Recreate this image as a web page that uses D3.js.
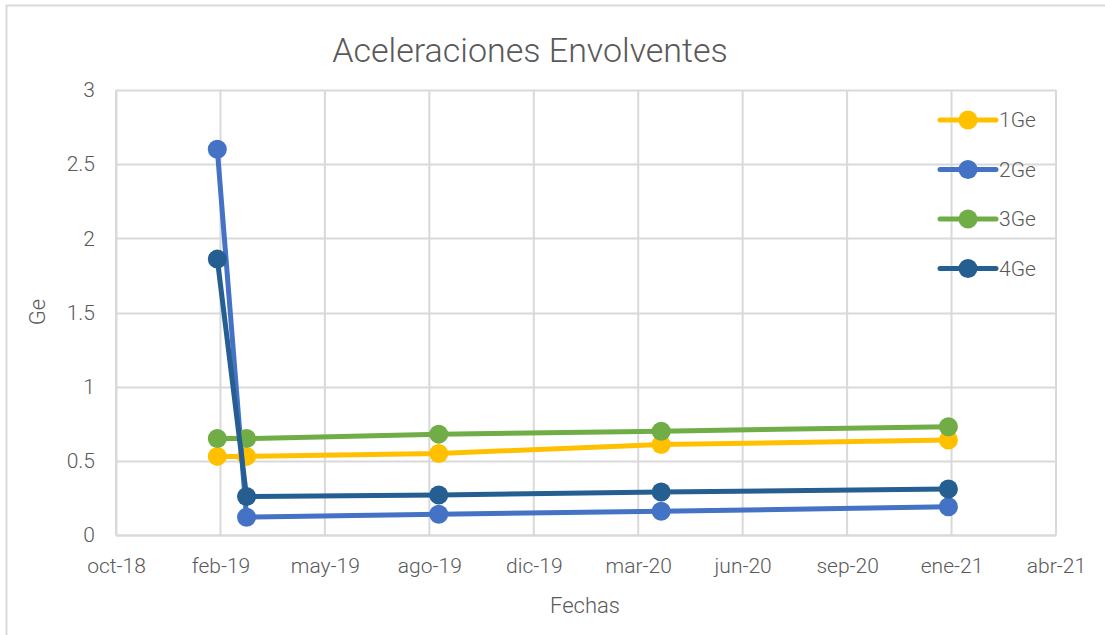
<!DOCTYPE html>
<html>
<head>
<meta charset="utf-8">
<script src="https://cdn.jsdelivr.net/npm/d3@7"></script>
<style>
  body { margin: 0; background: #fff; }
  text { font-family: "Liberation Sans Narrow", "Roboto", sans-serif; fill: #595959; font-weight: 300; }
</style>
</head>
<body>
<div id="chart"></div>
<script>
// data
var fechas = ["2019-02-01", "2019-03-01", "2019-09-01", "2020-04-01", "2021-01-01"];
var serieNames = ["1Ge", "2Ge", "3Ge", "4Ge"];
var serieColors = ["#FFC000", "#4472C4", "#70AD47", "#255E91"];
var ge1 = [0.53, 0.53, 0.55, 0.61, 0.64];
var ge2 = [2.60, 0.12, 0.14, 0.16, 0.19];
var ge3 = [0.65, 0.65, 0.68, 0.70, 0.73];
var ge4 = [1.86, 0.26, 0.27, 0.29, 0.31];
var yTicks = [0, 0.5, 1, 1.5, 2, 2.5, 3];
var meses = ["ene", "feb", "mar", "abr", "may", "jun", "jul", "ago", "sep", "oct", "nov", "dic"];
var xStart = "2018-10-27", xStepDays = 100, xSteps = 9;

var W = 1105, H = 635;
var margin = {top: 90, right: 49, bottom: 100, left: 116},
    width = W - margin.left - margin.right,
    height = H - margin.top - margin.bottom;

var parse = d3.utcParse("%Y-%m-%d");
var t0 = parse(xStart);
var xTicks = d3.range(xSteps + 1).map(function(i) { return d3.utcDay.offset(t0, i * xStepDays); });

var svgRoot = d3.select("#chart").append("svg")
  .attr("width", W).attr("height", H);

// chart border
svgRoot.append("rect")
  .attr("x", 6.5).attr("y", 5.5)
  .attr("width", W + 20).attr("height", H + 20)
  .attr("fill", "none").attr("stroke", "#d9d9d9").attr("stroke-width", 2);

var svg = svgRoot.append("g")
  .attr("transform", "translate(" + margin.left + "," + margin.top + ")");

var x = d3.scaleUtc().domain([xTicks[0], xTicks[xTicks.length - 1]]).range([0, width]);
var y = d3.scaleLinear().domain([0, 3]).range([height, 0]);

// grid
svg.append("g").selectAll("line").data(yTicks).enter().append("line")
  .attr("x1", 0).attr("x2", width)
  .attr("y1", function(d) { return Math.round(y(d)) + 0.5; })
  .attr("y2", function(d) { return Math.round(y(d)) + 0.5; })
  .attr("stroke", "#d9d9d9").attr("stroke-width", 2);
svg.append("g").selectAll("line").data(xTicks).enter().append("line")
  .attr("x1", function(d) { return x(d); }).attr("x2", function(d) { return x(d); })
  .attr("y1", 0).attr("y2", height)
  .attr("stroke", "#d9d9d9").attr("stroke-width", 2);

// axes
var fmt = function(d) { return meses[d.getUTCMonth()] + "-" + String(d.getUTCFullYear()).slice(2); };
var xAxis = svg.append("g")
  .attr("transform", "translate(0," + height + ")")
  .call(d3.axisBottom(x).tickValues(xTicks).tickFormat(fmt).tickSize(0).tickPadding(23));
xAxis.select(".domain").attr("stroke", "#d9d9d9").attr("stroke-width", 2);
xAxis.selectAll("text").style("font-size", "21px");

var yAxis = svg.append("g")
  .call(d3.axisLeft(y).tickValues(yTicks).tickFormat(d3.format("")).tickSize(0).tickPadding(21));
yAxis.select(".domain").attr("stroke", "#d9d9d9").attr("stroke-width", 2);
yAxis.selectAll("text").style("font-size", "21px");

// series
var series = [ge1, ge2, ge3, ge4].map(function(vals, i) {
  return {name: serieNames[i], color: serieColors[i],
          pts: vals.map(function(v, j) { return {date: parse(fechas[j]), value: v}; })};
});

var line = d3.line().x(function(d) { return x(d.date); }).y(function(d) { return y(d.value); });

series.forEach(function(s) {
  var g = svg.append("g");
  g.append("path").datum(s.pts)
    .attr("d", line).attr("fill", "none")
    .attr("stroke", s.color).attr("stroke-width", 5).attr("stroke-linejoin", "round");
  g.selectAll("circle").data(s.pts).enter().append("circle")
    .attr("cx", function(d) { return x(d.date); })
    .attr("cy", function(d) { return y(d.value); })
    .attr("r", 9.5).attr("fill", s.color);
});

// legend
var legend = svgRoot.append("g").attr("transform", "translate(940,120)");
series.forEach(function(s, i) {
  var row = legend.append("g").attr("transform", "translate(0," + (i * 49.5) + ")");
  row.append("line").attr("x1", 0).attr("x2", 56).attr("y1", 0).attr("y2", 0)
    .attr("stroke", s.color).attr("stroke-width", 5).attr("stroke-linecap", "round");
  row.append("circle").attr("cx", 28).attr("cy", 0).attr("r", 9.5).attr("fill", s.color);
  row.append("text").attr("x", 59).attr("y", 0).attr("dy", "0.35em")
    .style("font-size", "21px").text(s.name);
});

// titles
svgRoot.append("text").attr("x", 530).attr("y", 62).attr("text-anchor", "middle")
  .style("font-size", "34px").text("Aceleraciones Envolventes");
svgRoot.append("text").attr("x", 585).attr("y", 613).attr("text-anchor", "middle")
  .style("font-size", "22px").text("Fechas");
svgRoot.append("text").attr("transform", "translate(45,312) rotate(-90)")
  .attr("text-anchor", "middle").style("font-size", "22px").text("Ge");
</script>
</body>
</html>
